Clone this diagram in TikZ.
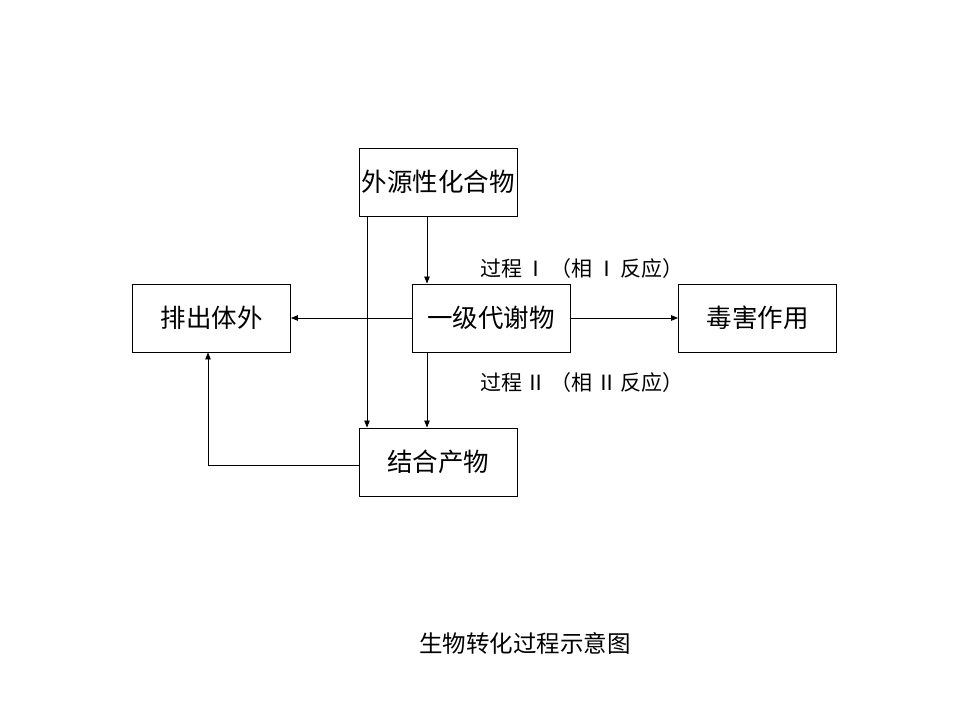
\documentclass[tikz,border=0pt]{standalone}
\usepackage{fontspec}
\setmainfont{Noto Sans CJK SC}
\usetikzlibrary{arrows.meta}
\begin{document}
\begin{tikzpicture}[x=1pt,y=-1pt,
  box/.style={draw,line width=0.9pt,minimum width=158pt,minimum height=68pt,inner sep=0pt,font=\fontsize{25.5}{28}\selectfont},
  lbl/.style={font=\fontsize{21}{24}\selectfont,inner sep=0pt},
  conn/.style={line width=0.8pt,-{Triangle[length=7pt,width=5.5pt]}}]
\useasboundingbox (0,0) rectangle (960,720);
\node[box] (src) at (438,182) {外源性化合物};
\node[box] (out) at (211.5,318) {排出体外};
\node[box] (met) at (491,318) {一级代谢物};
\node[box] (tox) at (757.5,318) {毒害作用};
\node[box] (conj) at (438,462) {结合产物};
\node[lbl] (p1) at (582,269) {过程\,Ⅰ\,（相\,Ⅰ\,反应）};
\node[lbl] (p2) at (582,383) {过程\,Ⅱ\,（相\,Ⅱ\,反应）};
\node[font=\fontsize{23.5}{26}\selectfont,inner sep=0pt] (cap) at (525,643) {生物转化过程示意图};
\draw[conn] (src.south west -| 367,0) -- (conj.north west -| 367,0);
\draw[conn] (src.south west -| 427,0) -- (met.north west -| 427,0);
\draw[conn] (met.west) -- (out.east);
\draw[conn] (met.east) -- (tox.west);
\draw[conn] (met.south west -| 427,0) -- (conj.north west -| 427,0);
\coordinate (bend) at (208,465);
\draw[conn] (conj.west |- bend) -- (bend) -- (out.south -| bend);
\end{tikzpicture}
\end{document}
